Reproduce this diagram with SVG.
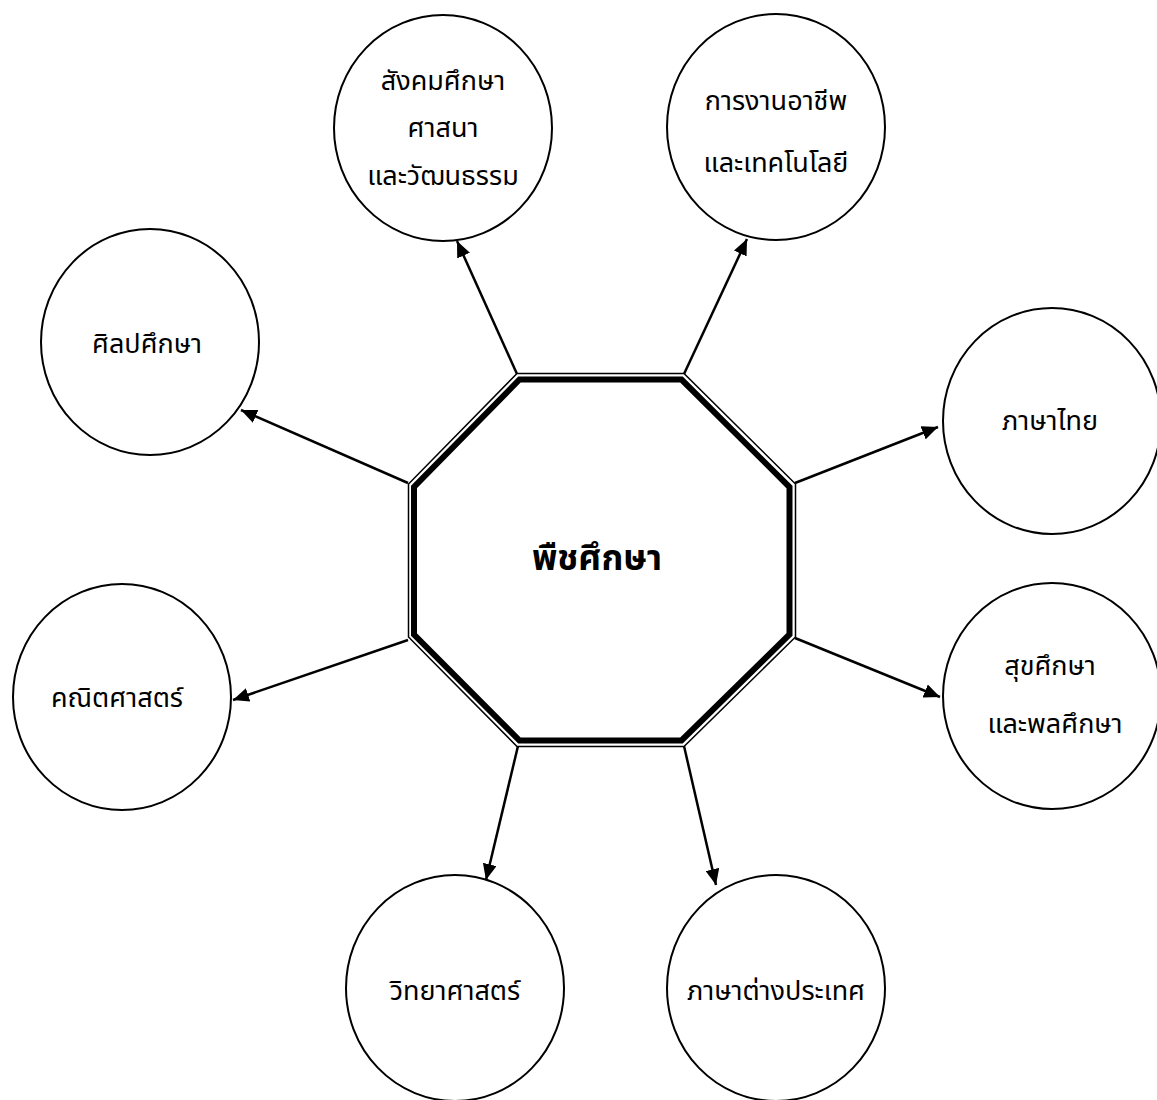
<svg xmlns="http://www.w3.org/2000/svg" width="1157" height="1100" viewBox="0 0 1157 1100">
<defs>
<marker id="ah" viewBox="0 0 16 14" refX="16" refY="7" markerWidth="16" markerHeight="14" markerUnits="userSpaceOnUse" orient="auto">
<path d="M0,0 L16,7 L0,14 Z" fill="#000"/>
</marker>
</defs>
<style>
.c{fill:#fff;stroke:#000;stroke-width:2}
.t{font-family:"Noto Sans Thai","Leelawadee UI",Tahoma,"DejaVu Sans","Noto Sans",sans-serif;font-size:27px;fill:#000;text-anchor:middle}
.b{font-family:"Noto Sans Thai","Leelawadee UI",Tahoma,"DejaVu Sans","Noto Sans",sans-serif;font-size:35px;font-weight:bold;fill:#000;text-anchor:middle}
.a{stroke:#000;stroke-width:2.5;fill:none;marker-end:url(#ah)}
</style>
<rect width="1157" height="1100" fill="#fff"/>
<g id="connectors">
<line class="a" x1="517" y1="374" x2="457" y2="241"/>
<line class="a" x1="684" y1="374" x2="747" y2="239"/>
<line class="a" x1="408" y1="483" x2="241" y2="410"/>
<line class="a" x1="795" y1="483" x2="938" y2="427"/>
<line class="a" x1="408" y1="640" x2="233" y2="700"/>
<line class="a" x1="795" y1="638" x2="940" y2="697"/>
<line class="a" x1="518" y1="746" x2="486" y2="880"/>
<line class="a" x1="684" y1="746" x2="716" y2="885"/>
</g>
<g id="center">
<polygon points="517,373.5 684,373.5 795.5,484 795.5,637 684,746.5 517,746.5 408.5,637 408.5,484" fill="#fff" stroke="#000" stroke-width="1.5"/>
<polygon points="519.5,379.5 681.5,379.5 789.5,487 789.5,634.5 681.5,740.5 519.5,740.5 414,634.5 414,487" fill="none" stroke="#000" stroke-width="6"/>
<text class="b" x="597" y="570">พืชศึกษา</text>
</g>
<g id="n1"><ellipse class="c" cx="443" cy="128" rx="109" ry="113"/>
<text class="t" x="443" y="90">สังคมศึกษา</text><text class="t" x="443" y="137">ศาสนา</text><text class="t" x="443" y="185">และวัฒนธรรม</text></g>
<g id="n2"><ellipse class="c" cx="776" cy="127" rx="109" ry="113"/>
<text class="t" x="776" y="110">การงานอาชีพ</text><text class="t" x="776" y="172">และเทคโนโลยี</text></g>
<g id="n3"><ellipse class="c" cx="150" cy="342" rx="109" ry="113"/>
<text class="t" x="147" y="353">ศิลปศึกษา</text></g>
<g id="n4"><ellipse class="c" cx="1052" cy="421" rx="109" ry="113"/>
<text class="t" x="1050" y="430">ภาษาไทย</text></g>
<g id="n5"><ellipse class="c" cx="122" cy="697" rx="109" ry="113"/>
<text class="t" x="117" y="707">คณิตศาสตร์</text></g>
<g id="n6"><ellipse class="c" cx="1052" cy="696" rx="109" ry="113"/>
<text class="t" x="1050" y="675">สุขศึกษา</text><text class="t" x="1055" y="733">และพลศึกษา</text></g>
<g id="n7"><ellipse class="c" cx="455" cy="988" rx="109" ry="113"/>
<text class="t" x="455" y="1000">วิทยาศาสตร์</text></g>
<g id="n8"><ellipse class="c" cx="776" cy="988" rx="109" ry="113"/>
<text class="t" x="776" y="1000">ภาษาต่างประเทศ</text></g>
</svg>
